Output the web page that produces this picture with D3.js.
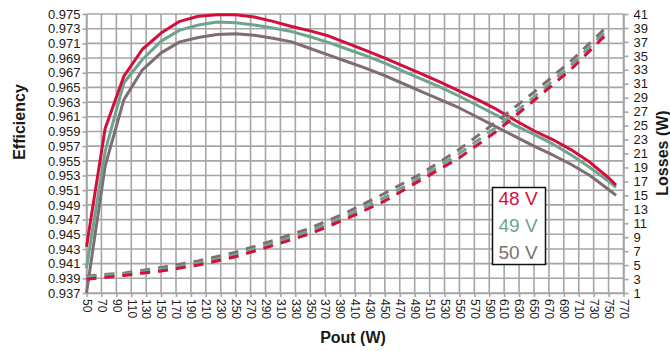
<!DOCTYPE html>
<html>
<head>
<meta charset="utf-8">
<script src="https://cdn.jsdelivr.net/npm/d3@7"></script>
<style>
  body { margin: 0; background: #fff; }
  svg { display: block; font-family: "Liberation Sans", Arial, sans-serif; }
</style>
</head>
<body>
<svg id="chart" width="670" height="351"></svg>
<script>
// output power for the efficiency curves (W)
var effPout = [50, 75, 100, 125, 150, 175, 200, 225, 250, 275, 300, 325, 350, 375, 400,
    425, 450, 475, 500, 525, 550, 575, 600, 625, 650, 675, 700, 725, 750, 760];

var eff48 = [0.9433, 0.9594, 0.9665, 0.9702, 0.9724, 0.9740, 0.9747, 0.9749, 0.9749, 0.9746,
    0.9740, 0.9733, 0.9727, 0.9720, 0.9710, 0.9700, 0.9690, 0.9679, 0.9668, 0.9657,
    0.9645, 0.9633, 0.9620, 0.9605, 0.9591, 0.9579, 0.9565, 0.9548, 0.9527, 0.9517];
var eff49 = [0.9404, 0.9563, 0.9656, 0.9688, 0.9713, 0.9728, 0.9735, 0.9739, 0.9738, 0.9735,
    0.9731, 0.9726, 0.9719, 0.9711, 0.9702, 0.9693, 0.9683, 0.9672, 0.9661, 0.9650,
    0.9638, 0.9625, 0.9612, 0.9598, 0.9586, 0.9573, 0.9558, 0.9541, 0.9522, 0.9514];
var eff50 = [0.9370, 0.9543, 0.9633, 0.9674, 0.9697, 0.9712, 0.9718, 0.9722, 0.9723, 0.9721,
    0.9717, 0.9712, 0.9703, 0.9694, 0.9685, 0.9676, 0.9666, 0.9655, 0.9644, 0.9633,
    0.9622, 0.9609, 0.9596, 0.9583, 0.9570, 0.9558, 0.9545, 0.9530, 0.9511, 0.9503];

// output power for the loss curves (W)
var lossPout = [50, 100, 150, 200, 250, 300, 350, 400, 450, 500, 550, 600, 650, 700, 750];

var loss48 = [2.96, 3.5, 4.15, 5.0, 6.2, 7.8, 9.5, 11.7, 14.2, 17.3, 20.4, 24.2, 28.6, 33.1, 38.4];
var loss49 = [3.3, 3.7, 4.4, 5.3, 6.5, 8.15, 9.9, 12.1, 14.7, 17.7, 21.0, 24.8, 29.1, 33.7, 38.9];
var loss50 = [3.45, 3.85, 4.65, 5.6, 6.85, 8.5, 10.3, 12.6, 15.3, 18.2, 21.6, 25.6, 29.8, 34.3, 39.4];

var seriesNames = ["48 V", "49 V", "50 V"];
var colors = ["#d2103c", "#6ea38e", "#7e6e72"];

var xTicks = d3.range(50, 771, 20);
var effTicks = d3.range(0, 20).map(function(i) { return +(0.937 + i * 0.002).toFixed(3); });
var lossTicks = d3.range(1, 42, 2);

var svg = d3.select("#chart");
var plotLeft = 86.5, plotRight = 623.5, plotTop = 14, plotBottom = 293;

var x = d3.scaleLinear().domain([50, 770]).range([plotLeft, plotRight]);
var yEff = d3.scaleLinear().domain([0.937, 0.975]).range([plotBottom, plotTop]);
var yLoss = d3.scaleLinear().domain([1, 41]).range([plotBottom, plotTop]);

var gridColor = "#a6a6a6";
var textColor = "#1a1a1a";

// grid
var grid = svg.append("g").attr("class", "grid");
grid.selectAll("line.v")
    .data(xTicks)
    .enter().append("line")
    .attr("class", "v")
    .attr("x1", function(d) { return x(d); })
    .attr("x2", function(d) { return x(d); })
    .attr("y1", plotTop).attr("y2", plotBottom)
    .attr("stroke", gridColor).attr("stroke-width", 1.6);
grid.selectAll("line.h")
    .data(effTicks)
    .enter().append("line")
    .attr("class", "h")
    .attr("x1", plotLeft).attr("x2", plotRight)
    .attr("y1", function(d) { return yEff(d); })
    .attr("y2", function(d) { return yEff(d); })
    .attr("stroke", gridColor).attr("stroke-width", 1.6);

// axes
function styleAxis(g) {
    g.select(".domain").attr("stroke", gridColor).attr("stroke-width", 1.6);
    g.selectAll(".tick line").attr("stroke", gridColor).attr("stroke-width", 1.6);
    g.selectAll("text").attr("fill", textColor).attr("font-family", "Liberation Sans, Arial, sans-serif");
}

var xAxis = svg.append("g")
    .attr("transform", "translate(0," + plotBottom + ")")
    .call(d3.axisBottom(x).tickValues(xTicks).tickSize(4).tickSizeOuter(0).tickFormat(d3.format("d")));
styleAxis(xAxis);
xAxis.selectAll("text")
    .attr("font-size", 12)
    .attr("transform", "rotate(90)")
    .attr("x", 6).attr("y", 0).attr("dy", "0.35em")
    .attr("text-anchor", "start");

var yAxisL = svg.append("g")
    .attr("transform", "translate(" + plotLeft + ",0)")
    .call(d3.axisLeft(yEff).tickValues(effTicks).tickSize(4).tickSizeOuter(0).tickFormat(d3.format(".3f")));
styleAxis(yAxisL);
yAxisL.selectAll("text").attr("font-size", 13).attr("x", -6);

var yAxisR = svg.append("g")
    .attr("transform", "translate(" + plotRight + ",0)")
    .call(d3.axisRight(yLoss).tickValues(lossTicks).tickSize(5).tickSizeOuter(0).tickFormat(d3.format("d")));
styleAxis(yAxisR);
yAxisR.selectAll("text").attr("font-size", 13).attr("x", 10);

// efficiency lines
var effLine = d3.line()
    .x(function(d, i) { return x(effPout[i]); })
    .y(function(d) { return yEff(d); });

[eff50, eff49, eff48].forEach(function(s, k) {
    svg.append("path")
        .datum(s)
        .attr("fill", "none")
        .attr("stroke", colors[2 - k])
        .attr("stroke-width", 3)
        .attr("stroke-linejoin", "round")
        .attr("d", effLine);
});

// loss lines (dashed)
var lossLine = d3.line()
    .x(function(d, i) { return x(lossPout[i]); })
    .y(function(d) { return yLoss(d); });

[loss50, loss49, loss48].forEach(function(s, k) {
    svg.append("path")
        .datum(s)
        .attr("fill", "none")
        .attr("stroke", colors[2 - k])
        .attr("stroke-width", 3)
        .attr("stroke-dasharray", "10,8")
        .attr("d", lossLine);
});

// legend
var legend = svg.append("g").attr("transform", "translate(492.5,187.5)");
legend.append("rect")
    .attr("width", 53).attr("height", 77)
    .attr("fill", "#fff").attr("stroke", "#111").attr("stroke-width", 1.5);
legend.selectAll("text")
    .data(seriesNames)
    .enter().append("text")
    .attr("x", 6)
    .attr("y", function(d, i) { return 17.5 + i * 27; })
    .attr("font-size", 19)
    .attr("fill", function(d, i) { return colors[i]; })
    .text(function(d) { return d; });

// axis titles
svg.append("text")
    .attr("transform", "translate(25,122) rotate(-90)")
    .attr("text-anchor", "middle")
    .attr("font-size", 16).attr("font-weight", "bold").attr("fill", textColor)
    .text("Efficiency");

svg.append("text")
    .attr("transform", "translate(668,153) rotate(-90)")
    .attr("text-anchor", "middle")
    .attr("font-size", 16).attr("font-weight", "bold").attr("fill", textColor)
    .text("Losses (W)");

svg.append("text")
    .attr("x", 353).attr("y", 343)
    .attr("text-anchor", "middle")
    .attr("font-size", 16).attr("font-weight", "bold").attr("fill", textColor)
    .text("Pout (W)");
</script>
</body>
</html>
